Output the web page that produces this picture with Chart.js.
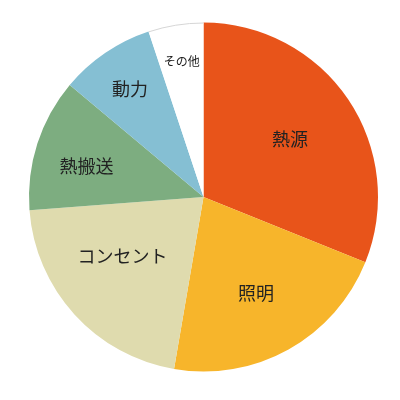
<!DOCTYPE html>
<html>
<head>
<meta charset="utf-8">
<script src="https://cdn.jsdelivr.net/npm/chart.js@4/dist/chart.umd.min.js"></script>
<style>
  html, body { margin: 0; padding: 0; background: #fff; }
  #wrap { width: 400px; height: 400px; }
</style>
</head>
<body>
<div id="wrap"><canvas id="chart"></canvas></div>
<script>
// ===== Data =====
const categories = ['熱源', '照明', 'コンセント', '熱搬送', '動力', 'その他'];
const shares = [31.1, 21.6, 21.1, 12.3, 8.8, 5.1];

// ===== Styles =====
const sliceColors = ['#E8541A', '#F7B52B', '#DFDBAE', '#7DAD80', '#85BFD3', '#FFFFFF'];
const labelRadius = [0.595, 0.627, 0.576, 0.694, 0.75, 0.785];
const labelShiftDeg = [0.4, 0.5, 6, -3, 0, 0];
const labelSize = [18, 18, 18, 18, 18, 12];

// ===== Labels inside slices (+ faint rim on the white slice) =====
const sliceLabels = {
    id: 'sliceLabels',
    afterDatasetsDraw(chart) {
        const ctx = chart.ctx;
        const meta = chart.getDatasetMeta(0);
        ctx.save();
        meta.data.forEach((arc, i) => {
            const p = arc.getProps(['x', 'y', 'startAngle', 'endAngle', 'outerRadius']);
            if (sliceColors[i] === '#FFFFFF') {
                ctx.beginPath();
                ctx.arc(p.x, p.y, p.outerRadius - 0.5, p.startAngle, p.endAngle);
                ctx.strokeStyle = '#d6d6d6';
                ctx.lineWidth = 1;
                ctx.stroke();
            }
            const mid = (p.startAngle + p.endAngle) / 2 + labelShiftDeg[i] * Math.PI / 180;
            const r = p.outerRadius * labelRadius[i];
            ctx.fillStyle = '#222';
            ctx.textAlign = 'center';
            ctx.textBaseline = 'middle';
            ctx.font = labelSize[i] + 'px "Noto Sans CJK JP", sans-serif';
            ctx.fillText(categories[i], p.x + Math.cos(mid) * r, p.y + Math.sin(mid) * r);
        });
        ctx.restore();
    }
};

new Chart(document.getElementById('chart'), {
    type: 'pie',
    data: {
        labels: categories,
        datasets: [{
            data: shares,
            backgroundColor: sliceColors,
            borderWidth: 0
        }]
    },
    options: {
        responsive: true,
        maintainAspectRatio: false,
        animation: false,
        layout: { padding: { left: 29, right: 22, top: 22, bottom: 28 } },
        plugins: {
            legend: { display: false },
            tooltip: { enabled: false }
        }
    },
    plugins: [sliceLabels]
});
</script>
</body>
</html>
